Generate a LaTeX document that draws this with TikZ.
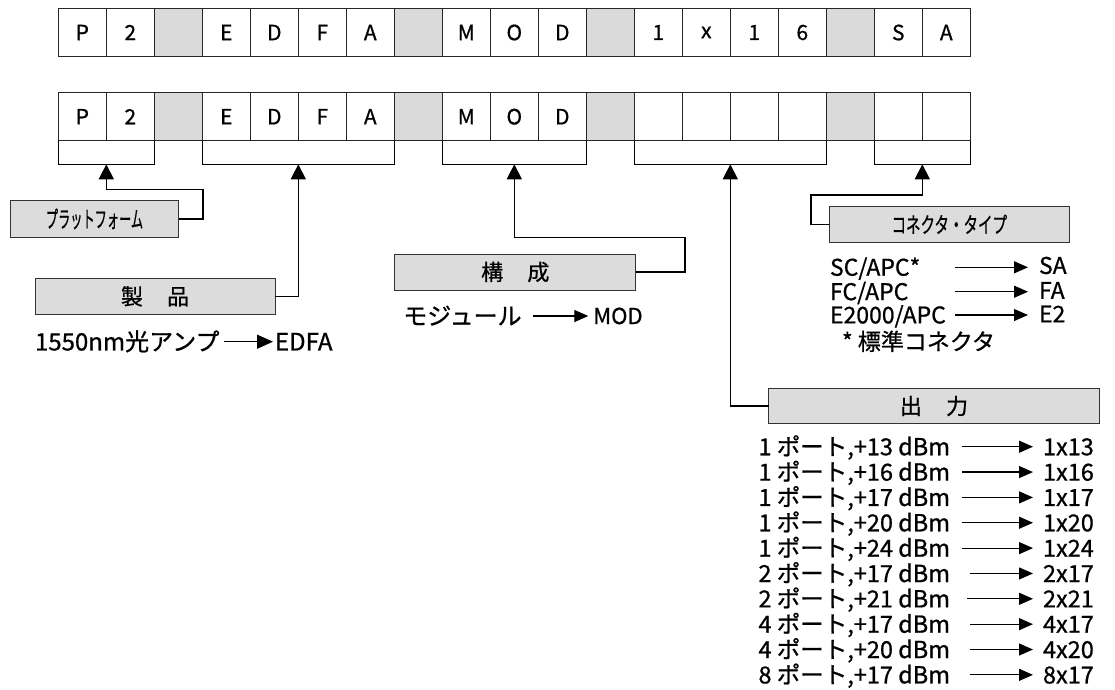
\documentclass[tikz,border=0pt]{standalone}
\usepackage{fontspec}
\usepackage{graphicx}
\setmainfont{Noto Sans CJK JP}[FakeBold=0.8]
\usetikzlibrary{arrows.meta,calc}
\definecolor{cellgray}{HTML}{DADADA}
\definecolor{boxgray}{HTML}{DCDCDC}

\begin{document}
\begin{tikzpicture}[x=1pt,y=-1pt,
  cell/.style={draw=black!85, line width=0.9pt, minimum width=48pt, minimum height=48pt,
    inner sep=0pt, outer sep=0pt, font=\fontsize{21}{21}\selectfont},
  gapcell/.style={cell, fill=cellgray},
  brk/.style={minimum width=#1, minimum height=23.6pt, inner sep=0pt, outer sep=0pt},
  brkline/.style={line width=1.5pt, black},
  lbl/.style={draw=black!80, fill=boxgray, line width=1pt, inner sep=0pt, outer sep=0pt},
  lblfont/.style={font=\fontsize{22}{22}\selectfont},
  conn/.style={line width=1.6pt, -{Triangle[length=15pt,width=15pt]}},
  sarrow/.style={line width=1.2pt, -{Triangle[length=14pt,width=12pt]}},
  tx/.style={inner sep=2pt, outer sep=0pt, font=\fontsize{#1}{#1}\selectfont,
    text height=0.73*#1pt, text depth=0pt},
]
\useasboundingbox (0,0) rectangle (1115,689);

% code row with the example values
\foreach \l/\s [count=\i from 0] in {P/cell,2/cell,{}/gapcell,E/cell,D/cell,F/cell,A/cell,{}/gapcell,
    M/cell,O/cell,D/cell,{}/gapcell,1/cell,x/cell,1/cell,6/cell,{}/gapcell,S/cell,A/cell}
  \node[\s] (t\i) at (82.3+48*\i,32.5) {\l};

% code row with the field groups
\foreach \l/\s [count=\i from 0] in {P/cell,2/cell,{}/gapcell,E/cell,D/cell,F/cell,A/cell,{}/gapcell,
    M/cell,O/cell,D/cell,{}/gapcell,{}/cell,{}/cell,{}/cell,{}/cell,{}/gapcell,{}/cell,{}/cell}
  \node[\s] (b\i) at (82.3+48*\i,116.7) {\l};

% brackets under each field
\node[brk=96pt]  (g1) at ($(b0.south)!0.5!(b1.south)+(0,11.8)$) {};
\node[brk=192pt] (g2) at ($(b3.south)!0.5!(b6.south)+(0,11.8)$) {};
\node[brk=144pt] (g3) at ($(b8.south)!0.5!(b10.south)+(0,11.8)$) {};
\node[brk=192pt] (g4) at ($(b12.south)!0.5!(b15.south)+(0,11.8)$) {};
\node[brk=96pt]  (g5) at ($(b17.south)!0.5!(b18.south)+(0,11.8)$) {};
\foreach \g in {g1,g2,g3,g4,g5}
  \draw[brkline] (\g.north west) |- (\g.south east) -- (\g.north east);

% field label boxes
\node[lbl, minimum width=168pt, minimum height=36.6pt] (plat) at (94.5,219)
  {\fontsize{23}{23}\selectfont\scalebox{0.53}[1]{プラットフォーム}};
\node[lbl, lblfont, minimum width=240pt, minimum height=36pt] (prod) at (155,296.3)
  {製\hspace{1.1em}品};
\node[lbl, lblfont, minimum width=240.7pt, minimum height=36pt] (conf) at (515.3,272)
  {構\hspace{1.1em}成};
\node[lbl, minimum width=240pt, minimum height=35.5pt] (ctype) at (949.3,224.3)
  {\fontsize{22}{22}\selectfont\scalebox{0.66}[1]{コネクタ・タイプ}};
\node[lbl, lblfont, minimum width=330.3pt, minimum height=35.7pt] (outp) at (934,406)
  {出\hspace{1.1em}力};

% connectors from the label boxes to the brackets
\coordinate (c1) at (202.7,189.3);
\coordinate (c3) at (685,237.3);
\coordinate (c5) at (810.7,195);
\draw[conn] (plat.east) -| (c1) -| (g1.south);
\draw[conn] (prod.east) -| (g2.south);
\draw[conn] (conf.east) -| (c3) -| (g3.south);
\draw[conn] (outp.west) -| (g4.south);
\draw[conn] (ctype.west) -| (c5) -| (g5.south);

% product
\node[tx=24, anchor=west] (amp) at (33,341.7) {1550nm光アンプ};
\node[tx=24, anchor=west] (edfa) at (273,341.7) {EDFA};
\draw[sarrow, -{Triangle[length=16pt,width=14pt]}, shorten <=3pt] (amp.east) -- (edfa.west);

% configuration
\node[tx=24, anchor=west] (modj) at (401.3,316) {モジュール};
\node[tx=22, anchor=west] (modc) at (591.3,316) {MOD};
\draw[sarrow, shorten <=9pt, shorten >=3pt] (modj.east) -- (modc.west);

% connector types
\node[tx=23, anchor=west, text width=121pt, align=left] (k1) at (828,267.3) {SC/APC*};
\node[tx=23, anchor=west, text width=121pt, align=left] (k2) at (828,291.7) {FC/APC};
\node[tx=23, anchor=west, text width=121pt, align=left] (k3) at (828,315) {E2000/APC};
\node[tx=23, anchor=west] (r1) at (1037,265.5) {SA};
\node[tx=23, anchor=west] (r2) at (1037,290.5) {FA};
\node[tx=23, anchor=west] (r3) at (1037,314) {E2};
\foreach \k in {1,2,3}
  \draw[sarrow, shorten <=2pt, shorten >=9pt] (k\k.east) -- (r\k.west |- k\k.east);
\node[tx=23, anchor=west] (std) at (840,341.7) {* 標準コネクタ};

% output options
\foreach \a/\b/\s [count=\k from 0] in {
    1 ポート{,}+13 dBm/1x13/10, 1 ポート{,}+16 dBm/1x16/10, 1 ポート{,}+17 dBm/1x17/10,
    1 ポート{,}+20 dBm/1x20/10, 1 ポート{,}+24 dBm/1x24/10, 2 ポート{,}+17 dBm/2x17/18,
    2 ポート{,}+21 dBm/2x21/15, 4 ポート{,}+17 dBm/4x17/18, 4 ポート{,}+20 dBm/4x20/18,
    8 ポート{,}+17 dBm/8x17/18}{
  \node[tx=23.5, anchor=east] (ol\k) at (952,446.7+25.35*\k) {\a};
  \node[tx=23.5, anchor=west] (or\k) at (1041,446.7+25.35*\k) {\b};
  \draw[sarrow, shorten <=\s pt, shorten >=8pt] (ol\k.east) -- (or\k.west);
}
\end{tikzpicture}
\end{document}
